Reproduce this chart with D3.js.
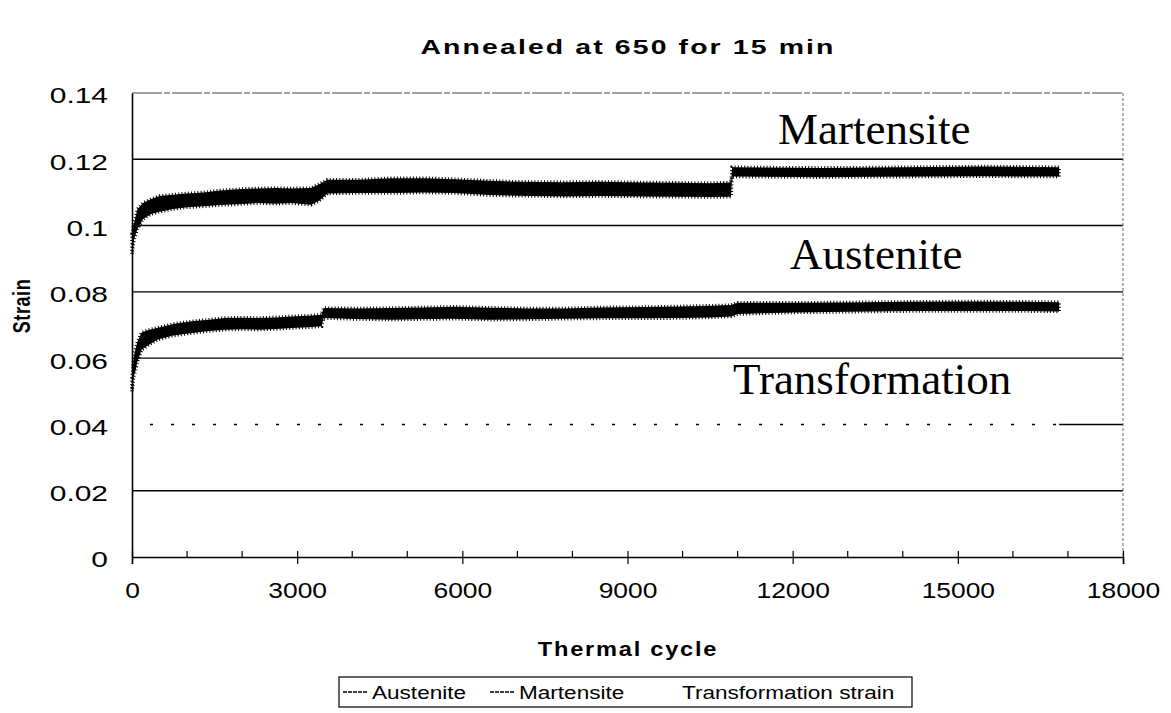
<!DOCTYPE html>
<html>
<head>
<meta charset="utf-8">
<script src="https://cdn.jsdelivr.net/npm/d3@7"></script>
<style>
body { margin: 0; background: #fff; }
svg { display: block; font-family: "Liberation Sans", Arial, sans-serif; }
</style>
</head>
<body>
<svg id="chart" width="1171" height="713"></svg>
<script>
var chartTitle = "Annealed at 650 for 15 min";
var xTitle = "Thermal cycle";
var yTitle = "Strain";
var xTicks = [0, 3000, 6000, 9000, 12000, 15000, 18000];
var xMinorTicks = [1000, 2000, 4000, 5000, 7000, 8000, 10000, 11000, 13000, 14000, 16000, 17000];
var yTicks = [0, 0.02, 0.04, 0.06, 0.08, 0.1, 0.12, 0.14];
var seriesNames = ["Austenite", "Martensite", "Transformation strain"];
var phaseLabels = ["Martensite", "Austenite", "Transformation"];

// martensite band (lower / upper edge of the noisy trace)
var martCycles = [0, 40, 100, 200, 350, 500, 750, 1000, 1300, 1600, 2000, 2300, 2600, 2900, 3250, 3400, 3550,
    4100, 4700, 5300, 5850, 6500, 7000, 7865, 8500, 9300, 9955, 10500, 10880, 10900, 11500, 12500, 13500,
    14500, 15500, 16300, 16840];
var martLow = [0.0915, 0.0960, 0.0990, 0.1020, 0.1035, 0.1042, 0.1050, 0.1055, 0.1058, 0.1062, 0.1065, 0.1068,
    0.1066, 0.1068, 0.1063, 0.1075, 0.1097, 0.1098, 0.1098, 0.1100, 0.1098, 0.1092, 0.1090, 0.1088, 0.1089,
    0.1088, 0.1087, 0.1086, 0.1087, 0.1148, 0.1147, 0.1146, 0.1147, 0.1148, 0.1149, 0.1148, 0.1148];
var martHigh = [0.0975, 0.1010, 0.1050, 0.1068, 0.1080, 0.1089, 0.1093, 0.1097, 0.1100, 0.1106, 0.1110, 0.1112,
    0.1113, 0.1112, 0.1113, 0.1125, 0.1138, 0.1138, 0.1143, 0.1143, 0.1140, 0.1135, 0.1132, 0.1131, 0.1132,
    0.1130, 0.1129, 0.1128, 0.1130, 0.1176, 0.1175, 0.1174, 0.1175, 0.1177, 0.1178, 0.1177, 0.1176];

// austenite band
var austCycles = [0, 30, 60, 100, 175, 300, 470, 750, 1085, 1400, 1690, 2000, 2300, 2600, 2900, 3200, 3445, 3480,
    4100, 4720, 5300, 5870, 6500, 7200, 7865, 8500, 9300, 9955, 10500, 10880, 11000, 12020, 13000, 14110,
    15200, 16200, 16840];
var austLow = [0.0500, 0.0545, 0.0560, 0.0590, 0.0625, 0.0640, 0.0656, 0.0668, 0.0676, 0.0682, 0.0686, 0.0687,
    0.0686, 0.0688, 0.0691, 0.0693, 0.0696, 0.0721, 0.0718, 0.0716, 0.0718, 0.0719, 0.0716, 0.0717, 0.0719,
    0.0720, 0.0720, 0.0721, 0.0723, 0.0726, 0.0733, 0.0738, 0.0740, 0.0742, 0.0742, 0.0742, 0.0741];
var austHigh = [0.0540, 0.0600, 0.0625, 0.0650, 0.0677, 0.0685, 0.0692, 0.0703, 0.0711, 0.0716, 0.0721, 0.0722,
    0.0721, 0.0723, 0.0726, 0.0728, 0.0731, 0.0751, 0.0750, 0.0751, 0.0753, 0.0755, 0.0752, 0.0750, 0.0750,
    0.0753, 0.0754, 0.0756, 0.0758, 0.0760, 0.0767, 0.0767, 0.0768, 0.0770, 0.0771, 0.0770, 0.0769];

// transformation strain (drawn white in the original)
var transCycles = [0, 2000, 4000, 6000, 8000, 10000, 12000, 14000, 16840];
var transValues = [0.040, 0.040, 0.040, 0.040, 0.040, 0.040, 0.040, 0.040, 0.040];

var svg = d3.select("#chart");
var margin = { top: 93, right: 48, bottom: 156, left: 132 };
var width = 1171 - margin.left - margin.right;
var height = 713 - margin.top - margin.bottom;
var g = svg.append("g").attr("transform", "translate(" + margin.left + "," + margin.top + ")");

var x = d3.scaleLinear().domain([0, 18000]).range([0, width]);
var y = d3.scaleLinear().domain([0, 0.14]).range([height, 0]);

function bandData(cycles, low, high) {
    return cycles.map(function(c, i) {
        return { c: c, lo: low[i], hi: high[i] };
    });
}

// gridlines
g.selectAll(".grid").data(yTicks.filter(function(t) { return t > 0 && t < 0.14; }))
    .enter().append("line")
    .attr("x1", 0).attr("x2", width)
    .attr("y1", function(d) { return y(d); }).attr("y2", function(d) { return y(d); })
    .attr("stroke", "#000").attr("stroke-width", 1.4);

// plot frame top / right
g.append("line").attr("x1", 0).attr("x2", width).attr("y1", 0).attr("y2", 0)
    .attr("stroke", "#444").attr("stroke-width", 1.2).attr("stroke-dasharray", "30,2,6,2");
g.append("line").attr("x1", width).attr("x2", width).attr("y1", 0).attr("y2", height)
    .attr("stroke", "#666").attr("stroke-width", 1).attr("stroke-dasharray", "3,2");

// series
var band = d3.area()
    .x(function(d) { return x(d.c); })
    .y0(function(d) { return y(d.lo); })
    .y1(function(d) { return y(d.hi); });

[bandData(martCycles, martLow, martHigh), bandData(austCycles, austLow, austHigh)].forEach(function(b) {
    g.append("path").datum(b)
        .attr("d", band).attr("fill", "#000").attr("stroke", "none");
    // ragged edge, like the noisy scan trace
    g.append("path").datum(b)
        .attr("d", band).attr("fill", "none").attr("stroke", "#000")
        .attr("stroke-width", 3.5).attr("stroke-dasharray", "1,2.2");
});

var line = d3.line()
    .x(function(d, i) { return x(transCycles[i]); })
    .y(function(d) { return y(d); });
g.append("path").datum(transValues)
    .attr("d", line).attr("fill", "none").attr("stroke", "#fff")
    .attr("stroke-width", 3).attr("stroke-dasharray", "18,3");

// axes
var xAxis = g.append("g").attr("transform", "translate(0," + height + ")")
    .call(d3.axisBottom(x).tickValues(xTicks).tickSize(7).tickPadding(18).tickFormat(d3.format("d")));
xAxis.selectAll(".tick line").attr("y1", -6).attr("stroke-width", 1.2);
xAxis.select(".domain").attr("stroke-width", 1.6);
xAxis.selectAll("text").attr("font-size", 22).attr("fill", "#000")
    .attr("font-family", "Liberation Sans, Arial, sans-serif")
    .attr("transform", "scale(1.2,1)");

g.selectAll(".minor").data(xMinorTicks).enter().append("line")
    .attr("x1", function(d) { return x(d); }).attr("x2", function(d) { return x(d); })
    .attr("y1", height - 6).attr("y2", height)
    .attr("stroke", "#000").attr("stroke-width", 1.2);

var yAxis = g.append("g")
    .call(d3.axisLeft(y).tickValues(yTicks).tickSize(0).tickPadding(0).tickFormat(function(d) { return d3.format("")(+d.toFixed(2)); }));
yAxis.select(".domain").attr("stroke-width", 1.6);
yAxis.selectAll("text").attr("font-size", 22).attr("fill", "#000")
    .attr("font-family", "Liberation Sans, Arial, sans-serif")
    .attr("x", -24 / 1.36).attr("dy", "0.45em")
    .attr("transform", "scale(1.36,1)");

// phase labels inside the plot
var labelPos = [[778, 144], [790, 269], [733, 394]];
phaseLabels.forEach(function(lbl, i) {
    svg.append("text")
        .attr("x", labelPos[i][0]).attr("y", labelPos[i][1])
        .attr("font-family", "Liberation Serif, Times New Roman, serif")
        .attr("font-size", 45)
        .text(lbl);
});

// titles
svg.append("text").attr("transform", "translate(628,54) scale(1.42,1)").attr("text-anchor", "middle")
    .attr("font-weight", "bold").attr("font-size", 20).attr("letter-spacing", 1.5)
    .text(chartTitle);
svg.append("text").attr("transform", "translate(628,656) scale(1.18,1)").attr("text-anchor", "middle")
    .attr("font-weight", "bold").attr("font-size", 20).attr("letter-spacing", 1.5)
    .text(xTitle);
svg.append("text").attr("transform", "translate(30,306) scale(1.3,1) rotate(-90)").attr("text-anchor", "middle")
    .attr("font-weight", "bold").attr("font-size", 18).attr("letter-spacing", 0.6)
    .text(yTitle);

// legend
var legendColors = ["#000", "#000", "#fff"];
var legendTextX = [33, 180, 343];
var legend = svg.append("g").attr("transform", "translate(339,677)");
seriesNames.forEach(function(name, i) {
    legend.append("line")
        .attr("x1", legendTextX[i] - 29).attr("x2", legendTextX[i] - 5).attr("y1", 15).attr("y2", 15)
        .attr("stroke", legendColors[i]).attr("stroke-width", 1.5).attr("stroke-dasharray", i < 2 ? "4,1" : null);
    legend.append("text")
        .attr("transform", "translate(" + legendTextX[i] + ",22) scale(1.22,1)")
        .attr("font-size", 18.5)
        .text(name);
});
legend.insert("rect", ":first-child")
    .attr("x", 0).attr("y", 0).attr("width", 573).attr("height", 30)
    .attr("fill", "#fff").attr("stroke", "#000").attr("stroke-width", 1.2);
</script>
</body>
</html>
